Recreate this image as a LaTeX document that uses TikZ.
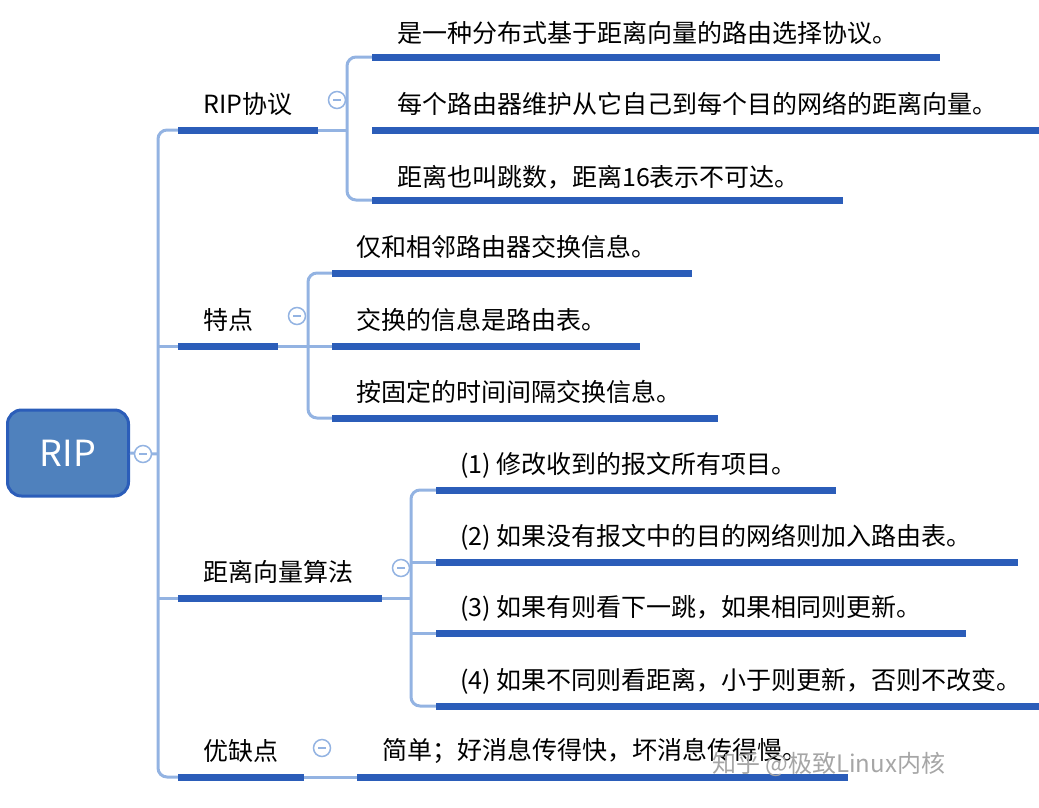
\documentclass[tikz,border=0pt]{standalone}
\usepackage{fontspec}
\setmainfont{Noto Sans CJK SC}
\begin{document}
\begin{tikzpicture}[x=1pt,y=-1pt,
  thin line/.style={draw=lblue,line width=3pt,rounded corners=9pt},
  bar/.style={draw=dblue,line width=7pt},
  lab/.style={anchor=west,inner sep=0pt,font=\fontsize{25}{28}\selectfont},
  tog/.style={circle,draw=lblue,line width=1.5pt,fill=white,minimum size=17pt,inner sep=0pt,
    path picture={\draw[lblue,line width=1.2pt] ([xshift=-4pt]path picture bounding box.center)--([xshift=4pt]path picture bounding box.center);}}]
\definecolor{lblue}{HTML}{93B3E2}
\definecolor{dblue}{HTML}{2B5DB9}
\useasboundingbox (0,0) rectangle (1039,807);
% root
\node[draw=dblue,line width=3pt,fill={rgb,255:red,79;green,129;blue,189},rounded corners=14pt,minimum width=121pt,minimum height=86pt,text=white,font=\fontsize{36}{40}\selectfont] (rip) at (68,453) {RIP};
% main trunk
\coordinate (t0) at (158,130); \coordinate (t1) at (158,777);
\draw[thin line] (178,130) -- (158,130) -- (158,777) -- (178,777);
\draw[thin line] (rip.east) -- (158,454);
\draw[thin line] (158,346) -- (178,346);
\draw[thin line] (158,598) -- (178,598);
\node[tog] (c0) at (143,454) {};
% branch 1
\draw[bar] (178,130) -- (318,130);
\node[lab] (b1) at (203,104) {RIP协议};
\draw[thin line] (318,130) -- (347,130);
\draw[thin line] (372,57) -- (347,57) -- (347,200) -- (372,200);
\node[tog] (c1) at (337,100) {};
\draw[bar] (372,57) -- (940,57);
\draw[bar] (372,130) -- (1039,130);
\draw[bar] (372,200) -- (843,200);
\node[lab] (b11) at (397,33) {是一种分布式基于距离向量的路由选择协议。};
\node[lab] (b12) at (397,104) {每个路由器维护从它自己到每个目的网络的距离向量。};
\node[lab] (b13) at (397,177) {距离也叫跳数，距离16表示不可达。};
% branch 2
\draw[bar] (178,346) -- (278,346);
\node[lab] (b2) at (203,320) {特点};
\draw[thin line] (278,346) -- (332,346);
\draw[thin line] (332,273) -- (308,273) -- (308,418) -- (332,418);
\node[tog] (c2) at (297,316) {};
\draw[bar] (332,273) -- (692,273);
\draw[bar] (332,346) -- (640,346);
\draw[bar] (332,418) -- (718,418);
\node[lab] (b21) at (356,247) {仅和相邻路由器交换信息。};
\node[lab] (b22) at (356,320) {交换的信息是路由表。};
\node[lab] (b23) at (356,392) {按固定的时间间隔交换信息。};
% branch 3
\draw[bar] (178,598) -- (382,598);
\node[lab] (b3) at (203,572) {距离向量算法};
\draw[thin line] (382,598) -- (411,598);
\draw[thin line] (436,490) -- (411,490) -- (411,706) -- (436,706);
\draw[thin line] (411,562) -- (436,562);
\draw[thin line] (411,633) -- (436,633);
\node[tog] (c3) at (401,568) {};
\draw[bar] (436,490) -- (836,490);
\draw[bar] (436,562) -- (1018,562);
\draw[bar] (436,633) -- (966,633);
\draw[bar] (436,706) -- (1039,706);
\node[lab] (b31) at (460,465) {(1) 修改收到的报文所有项目。};
\node[lab] (b32) at (460,537) {(2) 如果没有报文中的目的网络则加入路由表。};
\node[lab] (b33) at (460,608) {(3) 如果有则看下一跳，如果相同则更新。};
\node[lab] (b34) at (460,681) {(4) 如果不同则看距离，小于则更新，否则不改变。};
% branch 4
\draw[bar] (178,777) -- (304,777);
\node[lab] (b4) at (203,751) {优缺点};
\draw[thin line] (304,777) -- (357,777);
\node[tog] (c4) at (322,748) {};
\draw[bar] (357,777) -- (848,777);
\node[lab] (b41) at (382,751) {简单；好消息传得快，坏消息传得慢。};
\node[lab,text=black!35,font=\fontsize{24}{28}\selectfont] (wm) at (712,764) {知乎 @极致Linux内核};
\end{tikzpicture}
\end{document}
